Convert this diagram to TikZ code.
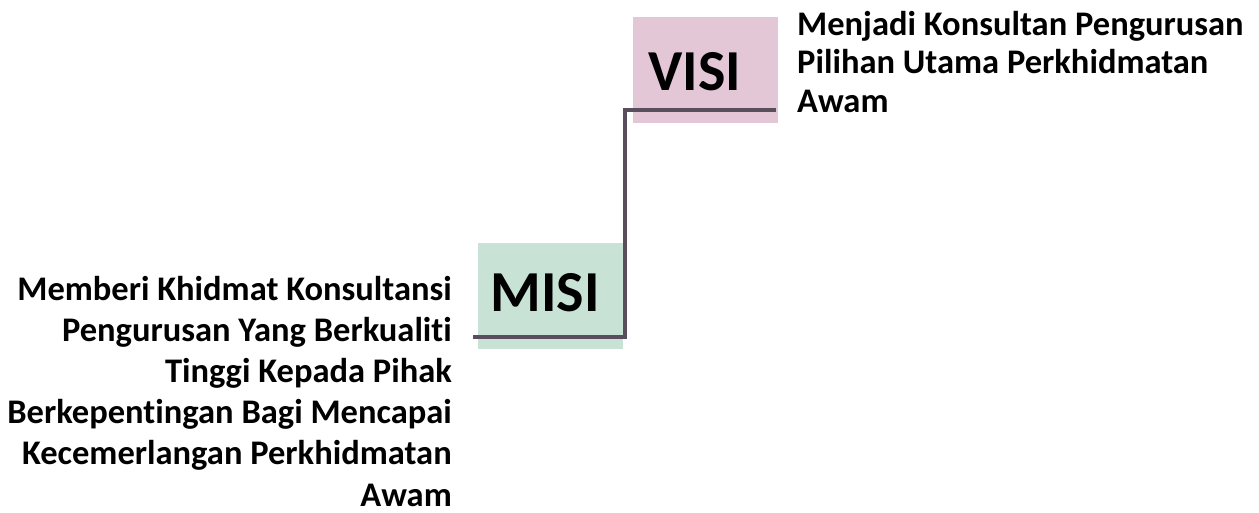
\documentclass[tikz,border=0pt]{standalone}
\usepackage{fontspec}
\setmainfont{Carlito}[Ligatures=NoCommon]

\definecolor{visipink}{HTML}{E4C7D7}
\definecolor{misigreen}{HTML}{C8E3D5}
\definecolor{linkgray}{HTML}{594F5C}

\begin{document}
\begin{tikzpicture}[x=1pt, y=-1pt,
    box/.style={minimum width=145pt, minimum height=106pt, inner sep=0pt},
    boxlabel/.style={font=\fontsize{58}{60}\selectfont\bfseries, inner sep=0pt, anchor=base},
    blurb/.style={font=\fontsize{34.5}{38.5}\selectfont\bfseries, inner sep=0pt},
    link/.style={draw=linkgray, line width=4pt, line join=miter}]

    % Page frame
    \useasboundingbox (0, 0) rectangle (1259, 512);

    % Coloured boxes
    \node[box, fill=visipink] (visi) at (705.5, 70) {}; % VISI box
    \node[box, fill=misigreen] (misi) at (550, 296) {}; % MISI box

    % Step line between the two boxes
    \coordinate (vend) at (776, 110);
    \coordinate (bend) at (625, 223);
    \coordinate (mend) at (473, 337);
    \draw[link] (vend) -| (bend) |- (mend);

    % Box titles
    \node[boxlabel] (visilabel) at (695, 90) {VISI};
    \node[boxlabel] (misilabel) at (545, 311) {MISI};

    % Statements (base anchor sits on the last line)
    \node[blurb, anchor=base west, align=left] (visitext) at (797, 112)
        {Menjadi Konsultan Pengurusan\\Pilihan Utama Perkhidmatan\\Awam};
    \node[blurb, anchor=base east, align=right, font=\fontsize{34.5}{41.2}\selectfont\bfseries] (misitext) at (452, 506)
        {Memberi Khidmat Konsultansi\\Pengurusan Yang Berkualiti\\Tinggi Kepada Pihak\\Berkepentingan Bagi Mencapai\\Kecemerlangan Perkhidmatan\\Awam};

\end{tikzpicture}
\end{document}
